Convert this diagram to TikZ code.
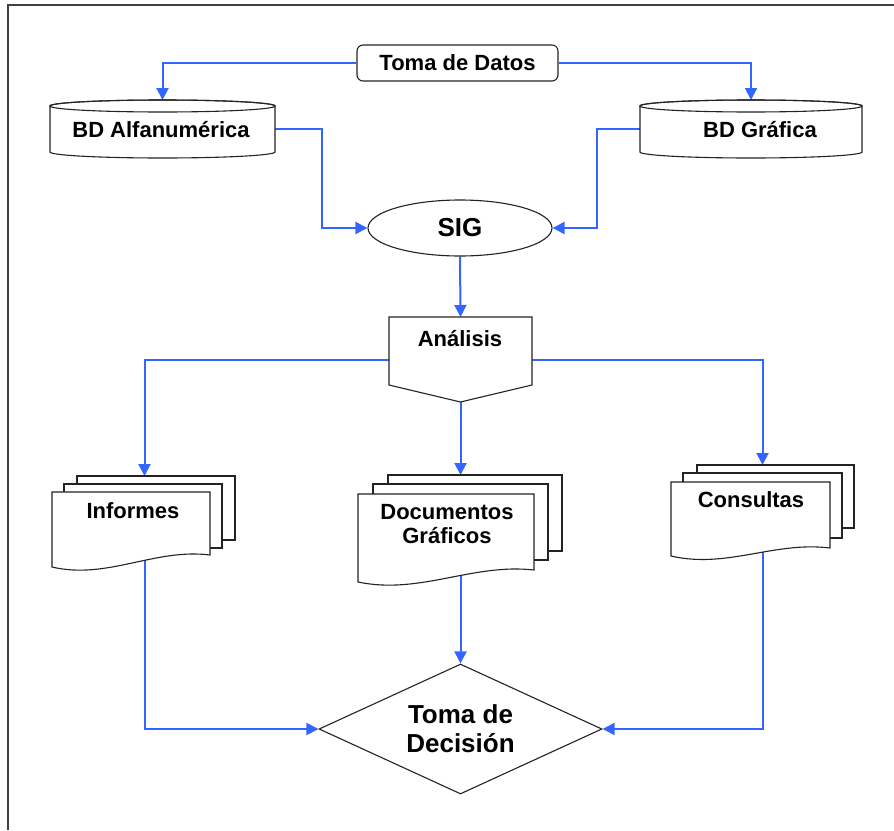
\documentclass[tikz,border=0pt]{standalone}
\usepackage{fontspec}
\setmainfont{Liberation Sans}
\usetikzlibrary{shapes.geometric,arrows.meta,backgrounds}
\definecolor{conncol}{RGB}{51,102,255}
\definecolor{edgecol}{RGB}{35,35,35}
\newcommand\docsheet[5]{%
  \path[outline] (#1,#2) -- (#3,#2) -- (#3,#4)
    .. controls ({#1+0.65*(#3-#1)},{#4-7}) and ({#1+0.35*(#3-#1)},{#5+13}) .. (#1,#5) -- cycle;}
\begin{document}
\begin{tikzpicture}[x=1pt,y=-1pt,
  link/.style={draw=conncol,line width=2pt,-{Triangle[length=12pt,width=12pt]}},
  outline/.style={draw=edgecol,line width=1.1pt,fill=white},
  lbl/.style={font=\bfseries\fontsize{22}{24}\selectfont,inner sep=0pt,align=center},
  big/.style={font=\bfseries\fontsize{26}{29}\selectfont,inner sep=0pt,align=center},
  holder/.style={inner sep=0pt,outer sep=0pt},
]
\useasboundingbox (0,0) rectangle (894,830);
% frame (left and top edges)
\draw[draw=black!75,line width=2.5pt] (8,830) -- (8,5) -- (894,5);

% Toma de Datos
\node[lbl,draw=edgecol,line width=1.1pt,rounded corners=6pt,minimum width=201pt,minimum height=36pt] (toma) at (457.5,63) {Toma de Datos};

% cylinders
\path[outline] (50,106) -- (50,152) arc[start angle=180,end angle=0,x radius=112.5,y radius=6]
  -- (275,106) arc[start angle=0,end angle=-180,x radius=112.5,y radius=6] -- cycle;
\draw[draw=edgecol,line width=1.1pt] (162.5,106) ellipse [x radius=112.5,y radius=6];
\path[outline] (640,106) -- (640,152) arc[start angle=180,end angle=0,x radius=111,y radius=6]
  -- (862,106) arc[start angle=0,end angle=-180,x radius=111,y radius=6] -- cycle;
\draw[draw=edgecol,line width=1.1pt] (751,106) ellipse [x radius=111,y radius=6];
\node[holder,minimum width=225pt,minimum height=58pt] (alfa) at (162.5,129) {};
\node[holder,minimum width=222pt,minimum height=58pt] (graf) at (751,129) {};
\node[lbl,anchor=base] (alfatxt) at (161,137) {BD Alfanumérica};
\node[lbl,anchor=base] (graftxt) at (760,137) {BD Gráfica};

% SIG
\node[ellipse,outline,minimum width=184pt,minimum height=56pt,big] (sig) at (460,228) {SIG};

% Analisis
\path[outline] (389,317) -- (532,317) -- (532,385) -- (460.5,402) -- (389,385) -- cycle;
\node[holder,minimum width=143pt,minimum height=85pt] (an) at (460.5,359.5) {};
\node[lbl,anchor=base] (antxt) at (460,346) {Análisis};

% Informes
\path[outline] (77,476) rectangle (235,540);
\path[outline] (64,484) rectangle (222,548);
\docsheet{52}{492}{210}{555}{567}
\node[holder,minimum width=183pt,minimum height=95pt] (inf) at (144.5,523.5) {};
\node[lbl,anchor=base] (inftxt) at (133,518) {Informes};

% Documentos Graficos
\path[outline] (388,475) rectangle (562,551);
\path[outline] (373,484) rectangle (548,560);
\docsheet{358}{494}{534}{570}{582}
\node[holder,minimum width=204pt,minimum height=107pt] (doc) at (460.5,528.5) {};
\node[lbl] (doctxt) at (447,524.5) {Documentos\\Gráficos};

% Consultas
\path[outline] (697,465) rectangle (854,528);
\path[outline] (683,473) rectangle (842,538);
\docsheet{671}{482}{830}{548}{556}
\node[holder,minimum width=183pt,minimum height=91pt] (con) at (762.5,510.5) {};
\node[lbl,anchor=base] (contxt) at (751,507) {Consultas};

% Toma de Decision
\node[diamond,outline,minimum width=283pt,minimum height=130pt,shape aspect=2.18,big] (dec) at (460.5,729) {Toma de\\Decisión};

\begin{pgfonlayer}{background}
\draw[link] (toma.west) -| (alfa.north);
\draw[link] (toma.east) -| (graf.north);
\draw[link] (alfa.east) -- ++(47,0) |- (sig.west);
\draw[link] (graf.west) -- ++(-43,0) |- (sig.east);
\draw[link] (sig.south) -- (an.north);
\draw[link] (an.west) -| (inf.north);
\draw[link] (an.south) -- (doc.north);
\draw[link] (an.east) -| (con.north);
\draw[link] (inf.center) |- (dec.west);
\draw[link] (doc.center) -- (doc.center |- dec.north);
\draw[link] (con.center) |- (dec.east);
\end{pgfonlayer}
\end{tikzpicture}
\end{document}
